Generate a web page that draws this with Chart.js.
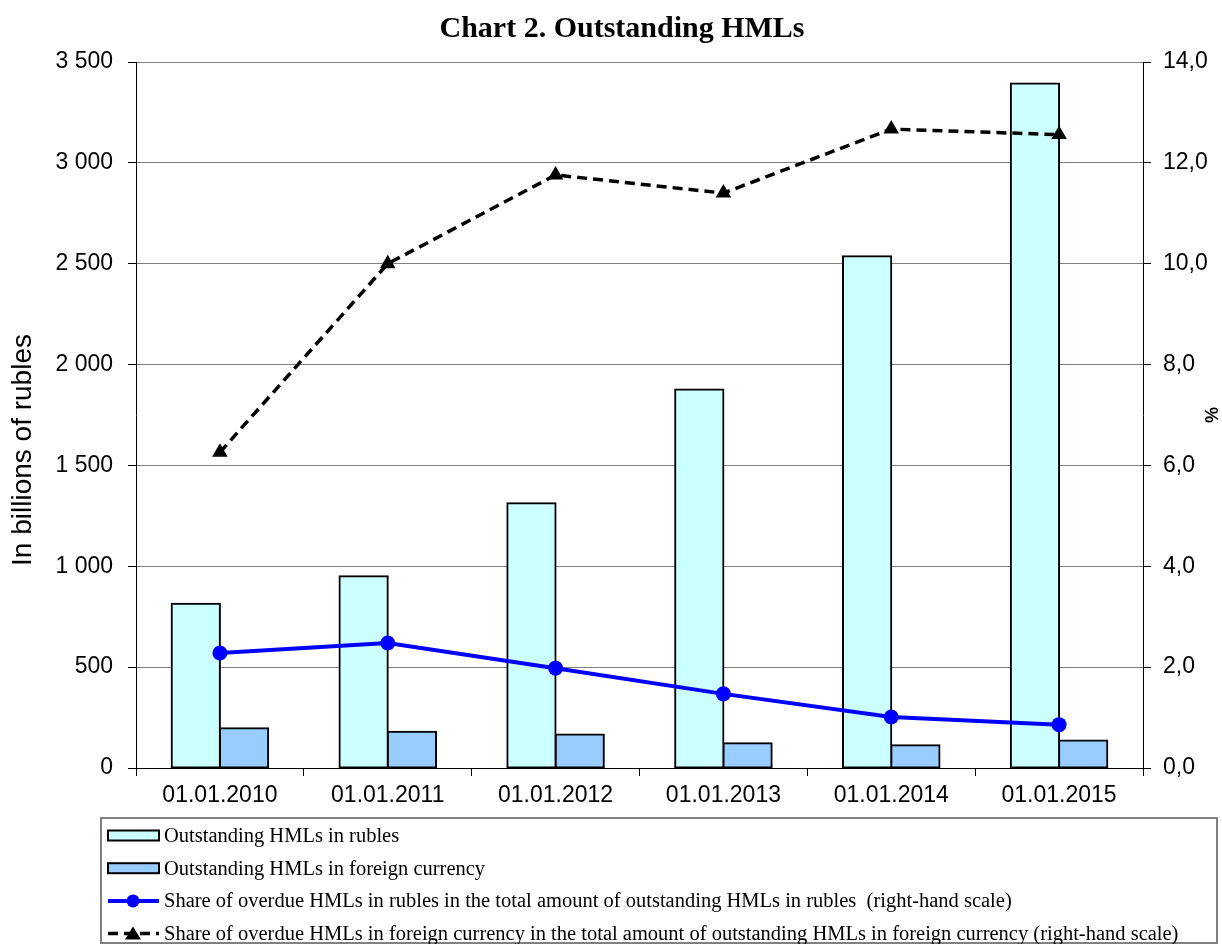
<!DOCTYPE html>
<html>
<head>
<meta charset="utf-8">
<script src="https://cdn.jsdelivr.net/npm/chart.js@4"></script>
<style>
  body { margin: 0; background: #fff; }
  #wrap { width: 1222px; height: 944px; }
</style>
</head>
<body>
<div id="wrap"><canvas id="grafico" width="1222" height="944"></canvas></div>
<script>
// dados
const datas = ['01.01.2010', '01.01.2011', '01.01.2012', '01.01.2013', '01.01.2014', '01.01.2015']
const emRublos = [814, 951, 1313, 1877, 2537, 3394]
const emMoeda = [197, 180, 166, 123, 113, 136]
const vencidosRublos = [2.28, 2.48, 1.98, 1.47, 1.01, 0.86]
const vencidosMoeda = [6.26, 10.0, 11.76, 11.4, 12.67, 12.56]

const titulo = 'Chart 2. Outstanding HMLs'
const tituloEsq = 'In billions of rubles'

const nomes = [
    'Outstanding HMLs in rubles',
    'Outstanding HMLs in foreign currency',
    'Share of overdue HMLs in rubles in the total amount of outstanding HMLs in rubles  (right-hand scale)',
    'Share of overdue HMLs in foreign currency in the total amount of outstanding HMLs in foreign currency (right-hand scale)'
]

/* titulo, eixo esquerdo e legenda desenhados à mão */
const extras = {
    id: 'extras',
    afterDraw(chart) {
        const ctx = chart.ctx
        ctx.save()
        ctx.fillStyle = '#000'

        ctx.font = 'bold 30px "Liberation Serif"'
        ctx.textAlign = 'center'
        ctx.textBaseline = 'alphabetic'
        ctx.fillText(titulo, 622, 37)

        ctx.save()
        ctx.translate(23, 450)
        ctx.rotate(-Math.PI / 2)
        ctx.font = '28px "Liberation Sans"'
        ctx.textBaseline = 'middle'
        ctx.fillText(tituloEsq, 0, 0)
        ctx.restore()

        // caixa da legenda
        ctx.strokeStyle = '#808080'
        ctx.lineWidth = 2
        ctx.strokeRect(101, 818, 1116, 125)

        ctx.font = '20.5px "Liberation Serif"'
        ctx.textAlign = 'left'
        ctx.textBaseline = 'middle'
        chart.data.datasets.forEach((ds, i) => {
            const y = 835.5 + i * 32.7
            if (ds.type === 'bar') {
                ctx.fillStyle = ds.backgroundColor
                ctx.fillRect(108, y - 5, 51, 10)
                ctx.strokeStyle = '#000'
                ctx.lineWidth = 2
                ctx.setLineDash([])
                ctx.strokeRect(108, y - 5, 51, 10)
            } else {
                ctx.strokeStyle = ds.borderColor
                ctx.lineWidth = ds.borderWidth
                ctx.setLineDash(ds.borderDash || [])
                ctx.beginPath()
                ctx.moveTo(108, y)
                ctx.lineTo(159, y)
                ctx.stroke()
                ctx.setLineDash([])
                ctx.fillStyle = ds.pointBackgroundColor
                ctx.beginPath()
                if (ds.pointStyle === 'triangle') {
                    ctx.moveTo(133, y - 7)
                    ctx.lineTo(141, y + 6)
                    ctx.lineTo(125, y + 6)
                    ctx.closePath()
                } else {
                    ctx.arc(133, y, 6.5, 0, Math.PI * 2)
                }
                ctx.fill()
            }
            ctx.fillStyle = '#000'
            ctx.fillText(ds.label, 164, y + 1)
        })
        ctx.restore()
    }
}

const milhares = v => String(v).replace(/\B(?=(\d{3})+(?!\d))/g, ' ')

const grafico = new Chart(document.querySelector('#grafico'), {
    data: {
        labels: datas,
        datasets: [{
            type: 'bar',
            label: nomes[0],
            data: emRublos,
            backgroundColor: '#CCFFFF',
            borderColor: '#000',
            borderWidth: 2,
            borderSkipped: false,
            inflateAmount: 1,
            categoryPercentage: 0.575,
            barPercentage: 1,
            yAxisID: 'y',
            order: 2
        }, {
            type: 'bar',
            label: nomes[1],
            data: emMoeda,
            backgroundColor: '#99CCFF',
            borderColor: '#000',
            borderWidth: 2,
            borderSkipped: false,
            inflateAmount: 1,
            categoryPercentage: 0.575,
            barPercentage: 1,
            yAxisID: 'y',
            order: 2
        }, {
            type: 'line',
            label: nomes[2],
            data: vencidosRublos,
            borderColor: '#0000FF',
            borderWidth: 4,
            pointStyle: 'circle',
            pointRadius: 7.5,
            pointBackgroundColor: '#0000FF',
            pointBorderColor: '#0000FF',
            pointBorderWidth: 0,
            yAxisID: 'y1',
            order: 1
        }, {
            type: 'line',
            label: nomes[3],
            data: vencidosMoeda,
            borderColor: '#000',
            borderWidth: 3.5,
            borderDash: [10, 6],
            pointStyle: 'triangle',
            pointRadius: 9,
            pointBackgroundColor: '#000',
            pointBorderColor: '#000',
            pointBorderWidth: 0,
            yAxisID: 'y1',
            order: 0
        }]
    },
    options: {
        responsive: false,
        animation: false,
        layout: { padding: { top: 62, bottom: 126, left: 0, right: 0 } },
        plugins: {
            legend: { display: false },
            title: { display: false },
            tooltip: { enabled: false }
        },
        scales: {
            x: {
                offset: true,
                grid: { drawOnChartArea: false, tickLength: 8, color: '#000' },
                border: { color: '#000', width: 1 },
                ticks: { color: '#000', padding: 6, maxRotation: 0, font: { family: 'Liberation Sans', size: 23 } },
                afterFit: s => { s.height = 50 }
            },
            y: {
                position: 'left',
                min: 0,
                max: 3500,
                grid: { color: '#808080', tickLength: 8, tickColor: '#000' },
                border: { color: '#000', width: 1 },
                ticks: { stepSize: 500, color: '#000', padding: 15, callback: v => milhares(v), font: { family: 'Liberation Sans', size: 23 } },
                afterFit: s => { s.width = 136 }
            },
            y1: {
                position: 'right',
                min: 0,
                max: 14,
                grid: { drawOnChartArea: false, tickLength: 8, color: '#000' },
                border: { color: '#000', width: 1 },
                ticks: { stepSize: 2, color: '#000', padding: 12, callback: v => v.toFixed(1).replace('.', ','), font: { family: 'Liberation Sans', size: 23 } },
                title: { display: true, text: '%', color: '#000', padding: { top: 1, bottom: 0 }, font: { family: 'Liberation Sans', size: 18, weight: 'bold' } },
                afterFit: s => { s.width = 79 }
            }
        }
    },
    plugins: [extras]
})
</script>
</body>
</html>
